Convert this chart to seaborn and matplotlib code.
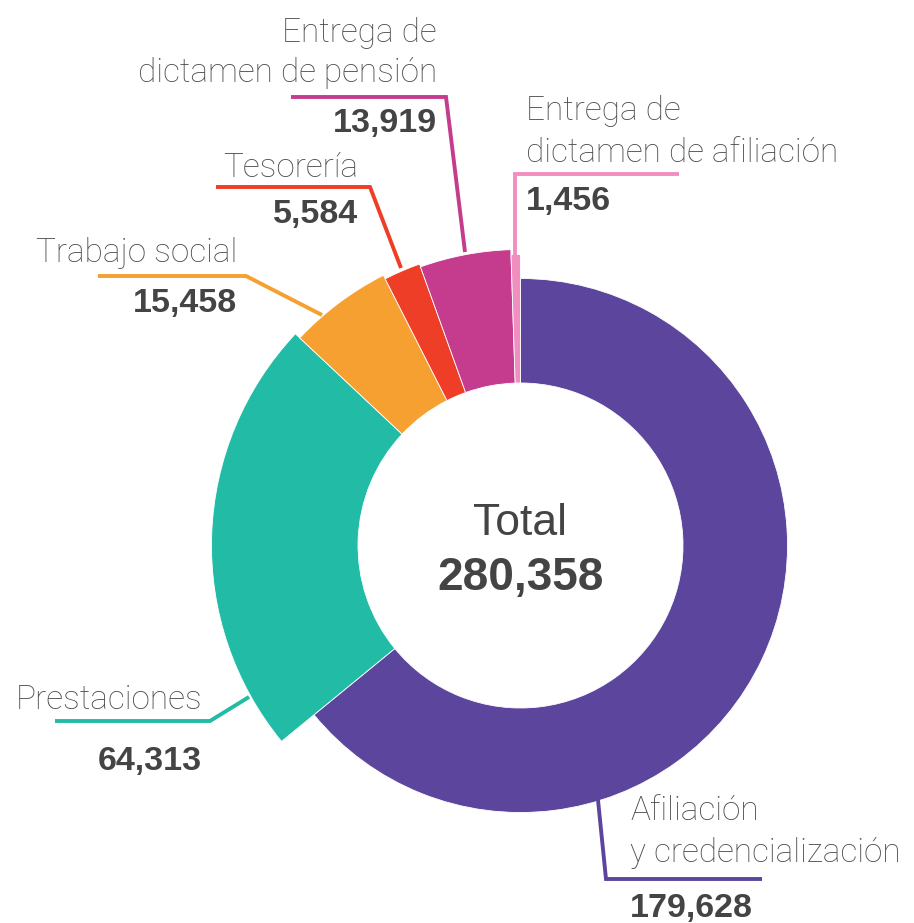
import numpy as np
import matplotlib.pyplot as plt
import seaborn as sns
from matplotlib.patches import Wedge

# data
categories = ["Afiliación\ny credencialización", "Prestaciones", "Trabajo social",
              "Tesorería", "Entrega de\ndictamen de pensión",
              "Entrega de\ndictamen de afiliación"]
values = [179628, 64313, 15458, 5584, 13919, 1456]

sns.set_theme(style="white")
colors = sns.color_palette(["#5C459C", "#22BCA6", "#F5A031", "#EE3E28", "#C53C8E", "#F18EC0"])

# layout (pixel space, y down)
W, H = 914, 923
cx, cy = 520.5, 545.5
r_in = 162.5
r_out = [267, 309, 303, 299, 296, 291]
name_col = "#4D4D4D"
num_col = "#444444"

# label layout: (x, align, name baselines, number baseline, leader path)
labels = [
    (630, "left", [820, 862], 917, [(598, 800), (606, 879), (762, 879)]),
    (202, "right", [709], 770, [(249, 697), (210, 721), (55, 721)]),
    (237, "right", [262], 312, [(322, 315), (246, 276), (98, 276)]),
    (358, "right", [177], 223, [(401, 268), (370, 187), (216, 187)]),
    (437, "right", [42, 82], 132, [(465, 252), (446, 97), (291, 97)]),
    (526, "left", [120, 162], 210, [(515, 255), (515, 174), (679, 174)]),
]

fig = plt.figure(figsize=(W / 100, H / 100), dpi=100)
ax = fig.add_axes([0, 0, 1, 1])
ax.set_xlim(0, W)
ax.set_ylim(H, 0)
ax.set_aspect("equal")
ax.axis("off")

total = sum(values)
frac = np.cumsum([0] + values) / total
# y axis is inverted, so increasing angle runs clockwise on screen, -90 is 12 o'clock
for i, v in enumerate(values):
    t1 = -90 + frac[i] * 360
    t2 = -90 + frac[i + 1] * 360
    ax.add_patch(Wedge((cx, cy), r_out[i], t1, t2, width=r_out[i] - r_in,
                       facecolor=colors[i], edgecolor="white", linewidth=0.6))

for i, (x, ha, name_ys, num_y, path) in enumerate(labels):
    px, py = zip(*path)
    ax.plot(px, py, color=colors[i], lw=2.8, solid_joinstyle="miter", solid_capstyle="butt")
    for line, y in zip(categories[i].split("\n"), name_ys):
        ax.text(x, y, line, ha=ha, va="baseline", fontsize=24, color=name_col,
                family="Roboto", fontweight="light")
    ax.text(x, num_y, f"{values[i]:,}", ha=ha, va="baseline", fontsize=24.5,
            color=num_col, family="Liberation Sans", fontweight="bold")

ax.text(cx, 535, "Total", ha="center", va="baseline", fontsize=32, color=num_col,
        family="Liberation Sans")
ax.text(cx, 590, f"{total:,}", ha="center", va="baseline", fontsize=33, color=num_col,
        family="Liberation Sans", fontweight="bold")

fig.savefig("out.png", dpi=100)
